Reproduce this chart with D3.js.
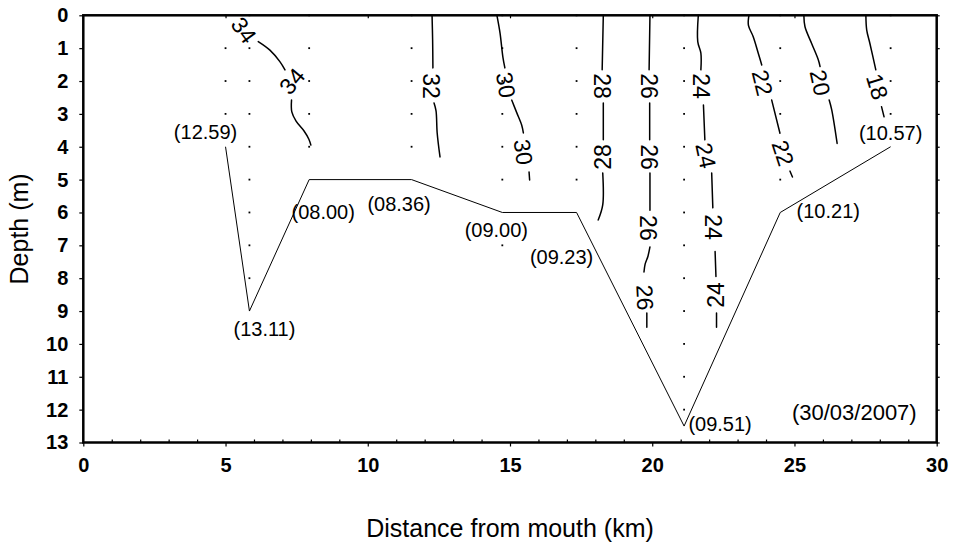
<!DOCTYPE html>
<html>
<head>
<meta charset="utf-8">
<script src="https://cdn.jsdelivr.net/npm/d3@7"></script>
<style>
  html, body { margin: 0; padding: 0; background: #fff; }
  svg { display: block; font-family: "Liberation Sans", Arial, Helvetica, sans-serif; }
</style>
</head>
<body>
<svg id="chart" width="955" height="547"></svg>
<script>
// ---- Data -----------------------------------------------------------------
// Sampling stations along the estuary: distance (km), bottom depth (m), time of cast
const stationKm    = [5.0, 5.84, 7.94, 11.54, 14.73, 17.34, 21.12, 24.5, 28.38];
const bottomDepth  = [4, 9, 5, 5, 6, 6, 12.5, 6, 4];
const stationTime  = ["12.59", "13.11", "08.00", "08.36", "09.00", "09.23", "09.51", "10.21", "10.57"];
// Depths (m) of the salinity samples taken at each station
const sampleDepths = [
  [0, 1, 2, 3],
  [0, 1, 2, 3, 4, 5, 6, 7, 8],
  [0, 1, 2, 3, 4],
  [0, 1, 2, 3, 4],
  [0, 1, 2, 3, 4, 5, 7],
  [0, 1, 2, 3, 4, 5],
  [0, 1, 2, 3, 4, 5, 6, 7, 8, 9, 10, 11, 12],
  [0, 1, 2, 3, 4, 5],
  [0, 1, 2, 3]
];
const surveyDate = "(30/03/2007)";

// Isohalines: each is a list of line pieces, [km, depth] pairs
const isohalines = [
  { value: 34, pieces: [
    [[6.15, 0.80], [6.56, 1.06], [6.91, 1.41], [7.09, 1.66]],
    [[7.32, 2.58], [7.33, 2.94], [7.48, 3.22], [7.76, 3.52], [7.93, 3.77], [8.00, 3.95]]
  ]},
  { value: 32, pieces: [
    [[12.26, 0], [12.28, 0.75], [12.29, 1.60]],
    [[12.33, 2.67], [12.40, 2.91], [12.44, 3.58], [12.54, 4.31]]
  ]},
  { value: 30, pieces: [
    [[14.54, 0], [14.65, 0.54], [14.75, 1.27], [14.82, 1.60]],
    [[15.06, 2.58], [15.24, 2.97], [15.41, 3.34], [15.47, 3.58]],
    [[15.67, 4.77], [15.69, 5.01]]
  ]},
  { value: 28, pieces: [
    [[18.28, 0], [18.24, 1.66]],
    [[18.28, 2.67], [18.28, 3.79]],
    [[18.26, 4.80], [18.26, 5.77], [18.10, 6.23]]
  ]},
  { value: 26, pieces: [
    [[19.92, 0], [19.89, 1.66]],
    [[19.91, 2.67], [19.91, 3.79]],
    [[19.92, 4.80], [19.92, 5.93]],
    [[19.92, 7.05], [19.85, 7.33], [19.75, 7.57], [19.71, 7.81]],
    [[19.81, 9.06], [19.81, 9.49]]
  ]},
  { value: 24, pieces: [
    [[21.62, 0], [21.60, 0.80], [21.71, 1.15], [21.71, 1.66]],
    [[21.80, 2.73], [21.85, 3.79]],
    [[22.09, 4.80], [22.13, 5.86]],
    [[22.21, 7.19], [22.24, 7.95]],
    [[22.26, 9.06], [22.26, 9.49]]
  ]},
  { value: 22, pieces: [
    [[23.40, 0], [23.38, 0.30], [23.55, 0.65], [23.73, 1.16], [23.85, 1.51]],
    [[24.20, 2.58], [24.49, 3.59]],
    [[24.84, 4.74], [24.93, 4.92]]
  ]},
  { value: 20, pieces: [
    [[25.33, 0], [25.37, 0.35], [25.60, 0.85], [25.84, 1.36], [25.90, 1.56]],
    [[26.22, 2.58], [26.31, 2.88], [26.50, 3.90]]
  ]},
  { value: 18, pieces: [
    [[27.51, 0], [27.54, 0.45], [27.65, 0.85], [27.86, 1.66]],
    [[28.06, 2.78], [28.15, 3.09]]
  ]}
];

// Inline isohaline labels: value, km, depth, text angle (deg)
const isohalineLabels = [
  [34, 5.65, 0.45, 54], [34, 7.33, 2.00, -50],
  [32, 12.24, 2.15, 90],
  [30, 14.86, 2.12, 80], [30, 15.47, 4.16, 82],
  [28, 18.25, 2.15, 90], [28, 18.27, 4.31, -90],
  [26, 19.89, 2.15, 90], [26, 19.90, 4.31, 90], [26, 19.85, 6.47, 90], [26, 19.75, 8.59, 87],
  [24, 21.71, 2.15, 90], [24, 21.89, 4.27, 78], [24, 22.14, 6.44, 90], [24, 22.24, 8.51, -90],
  [22, 23.88, 2.05, 76], [22, 24.60, 4.19, 72],
  [20, 25.91, 2.05, 78],
  [18, 27.92, 2.17, 73]
];

const xTicks = [0, 5, 10, 15, 20, 25, 30];
const yTicks = [0, 1, 2, 3, 4, 5, 6, 7, 8, 9, 10, 11, 12, 13];

// ---- Layout ---------------------------------------------------------------
const W = 955, H = 547;
const margin = { top: 15.3, right: 18.3, bottom: 104.5, left: 83.3 };
// pixel offsets of each station's time label from its bottom vertex (centre, baseline)
const timeLabelOffset = [[-20, -8], [15, 25], [14, 39], [-12.5, 31], [-6, 25], [-15, 52], [36, 5], [48, 6], [0, -7]];

const svg = d3.select("#chart");
svg.append("rect").attr("width", W).attr("height", H).attr("fill", "#fff");

const x = d3.scaleLinear().domain([0, 30]).range([margin.left, W - margin.right]);
const y = d3.scaleLinear().domain([0, 13]).range([margin.top, H - margin.bottom]);

const lineGen = d3.line().x(d => x(d[0])).y(d => y(d[1])).curve(d3.curveCatmullRom.alpha(0.5));

// Sample points
const dots = svg.append("g");
stationKm.forEach((km, i) => {
  sampleDepths[i].forEach(dep => {
    dots.append("rect")
      .attr("x", x(km) - 0.9).attr("y", y(dep) - 0.9)
      .attr("width", 1.8).attr("height", 1.8)
      .attr("fill", "#000");
  });
});

// Channel bottom profile
svg.append("path")
  .datum(stationKm.map((km, i) => [km, bottomDepth[i]]))
  .attr("d", d3.line().x(d => x(d[0])).y(d => y(d[1])))
  .attr("fill", "none").attr("stroke", "#000").attr("stroke-width", 1);

// Isohalines
const iso = svg.append("g");
isohalines.forEach(c => {
  c.pieces.forEach(p => {
    iso.append("path").attr("d", lineGen(p))
      .attr("fill", "none").attr("stroke", "#000").attr("stroke-width", 1.5)
      .attr("stroke-linecap", "round").attr("stroke-linejoin", "round");
  });
});
iso.selectAll("text.lab").data(isohalineLabels).join("text")
  .attr("class", "lab")
  .attr("transform", d => `translate(${x(d[1])},${y(d[2])}) rotate(${d[3]})`)
  .attr("text-anchor", "middle").attr("dy", "0.36em")
  .attr("font-size", 23).attr("fill", "#000")
  .text(d => d[0]);

// Time of each cast
svg.append("g").selectAll("text").data(stationTime).join("text")
  .attr("x", (d, i) => x(stationKm[i]) + timeLabelOffset[i][0])
  .attr("y", (d, i) => y(bottomDepth[i]) + timeLabelOffset[i][1])
  .attr("text-anchor", "middle").attr("font-size", 20).attr("fill", "#000")
  .text(d => `(${d})`);

svg.append("text")
  .attr("x", x(30) - 20).attr("y", y(13) - 23)
  .attr("text-anchor", "end").attr("font-size", 22).attr("fill", "#000")
  .text(surveyDate);

// Axes
const gx = svg.append("g").attr("transform", `translate(0,${y(13)})`)
  .call(d3.axisBottom(x).tickValues(xTicks).tickFormat(d3.format("d")).tickSize(4).tickPadding(11.5));
const gxMinor = svg.append("g").attr("transform", `translate(0,${y(13)})`)
  .call(d3.axisBottom(x).tickValues(d3.range(1, 30).filter(v => v % 5)).tickFormat("").tickSize(-3));
const gxTop = svg.append("g").attr("transform", `translate(0,${y(0)})`)
  .call(d3.axisTop(x).tickValues([5, 10, 15, 20, 25]).tickFormat("").tickSize(-3));
const gy = svg.append("g").attr("transform", `translate(${x(0)},0)`)
  .call(d3.axisLeft(y).tickValues(yTicks).tickFormat(d3.format("d")).tickSize(4).tickPadding(11));
const gyRight = svg.append("g").attr("transform", `translate(${x(30)},0)`)
  .call(d3.axisRight(y).tickValues(yTicks).tickFormat("").tickSize(3));

[gx, gxMinor, gxTop, gy, gyRight].forEach(g => {
  g.select(".domain").remove();
  g.selectAll(".tick line").attr("stroke", "#000").attr("stroke-width", 1.2);
  g.selectAll(".tick text")
    .attr("font-family", "'Liberation Sans', Arial, sans-serif")
    .attr("font-size", 20).attr("font-weight", "bold").attr("fill", "#000");
});

// Plot frame
svg.append("rect")
  .attr("x", x(0)).attr("y", y(0))
  .attr("width", x(30) - x(0)).attr("height", y(13) - y(0))
  .attr("fill", "none").attr("stroke", "#000").attr("stroke-width", 2.5);

// Axis titles
svg.append("text")
  .attr("transform", `translate(28,${(y(0) + y(13)) / 2}) rotate(-90)`)
  .attr("text-anchor", "middle").attr("font-size", 25).attr("fill", "#000")
  .text("Depth (m)");
svg.append("text")
  .attr("x", (x(0) + x(30)) / 2).attr("y", 536.5)
  .attr("text-anchor", "middle").attr("font-size", 25).attr("fill", "#000")
  .text("Distance from mouth (km)");
</script>
</body>
</html>
